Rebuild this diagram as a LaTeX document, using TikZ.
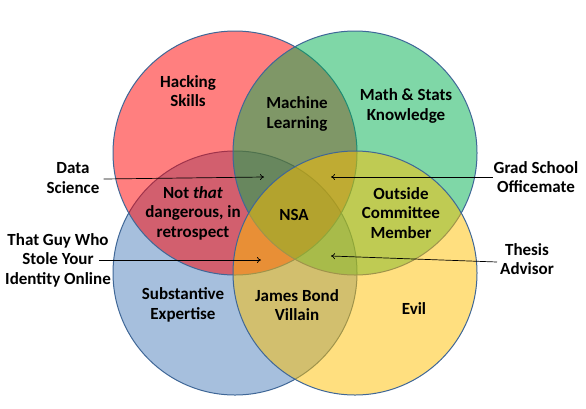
\documentclass[tikz,border=0pt]{standalone}
\usepackage{fontspec}
\setmainfont{Carlito}
\usetikzlibrary{arrows.meta}
\definecolor{cRed}{HTML}{FF0000}
\definecolor{cGreen}{HTML}{00B050}
\definecolor{cBlue}{HTML}{4F81BD}
\definecolor{cYellow}{HTML}{FFC000}
\definecolor{cEdge}{HTML}{3F6797}
\tikzset{
  venn/.style={draw=cEdge, line width=1pt, fill opacity=0.5},
  lbl/.style={align=center, inner sep=3pt, text=black,
    font=\fontsize{17}{19.5}\selectfont\bfseries},
  ptr/.style={draw=black, line width=0.7pt, -{To[length=4pt,width=6pt]}}
}
\begin{document}
\begin{tikzpicture}[x=1pt,y=-1pt]
\useasboundingbox (0,0) rectangle (586,408);
\fill[white] (0,0) rectangle (586,408);
% circles (order: blue, red, green, yellow)
\path[venn, fill=cBlue]   (235,273) circle[radius=122];
\path[venn, fill=cRed]    (235,153) circle[radius=122];
\path[venn, fill=cGreen]  (355,153) circle[radius=122];
\path[venn, fill=cYellow] (355,273) circle[radius=122];
% region labels
\node[lbl] (hack) at (188,91) {Hacking\\Skills};
\node[lbl] (ml)   at (297,114) {Machine\\Learning};
\node[lbl] (math) at (406,106) {Math \& Stats\\Knowledge};
\node[lbl] (ntd)  at (193,213) {Not \textit{that}\\dangerous, in\\retrospect};
\node[lbl] (nsa)  at (294,215) {NSA};
\node[lbl] (ocm)  at (401,213) {Outside\\Committee\\Member};
\node[lbl] (sub)  at (183,305) {Substantive\\Expertise};
\node[lbl] (jbv)  at (297,305) {James Bond\\Villain};
\node[lbl] (evil) at (414,309) {Evil};
% outside labels
\node[lbl] (ds) at (73,178) {Data\\Science};
\node[lbl] (tg) at (58,260) {That Guy Who\\Stole Your\\Identity Online};
\node[lbl] (gs) at (536,177) {Grad School\\Officemate};
\node[lbl] (ta) at (527,259) {Thesis\\Advisor};
% arrow tips
\coordinate (dsT) at (264,177);
\coordinate (tgT) at (261,260);
\coordinate (gsT) at (331,177);
\coordinate (taT) at (331,256);
\draw[ptr] ([yshift=-1pt,xshift=1pt]ds.east) -- (dsT);
\draw[ptr] ([xshift=-15pt]tg.east) -- (tgT);
\draw[ptr] ([xshift=2pt]gs.west) -- (gsT);
\draw[ptr] ([yshift=-3pt]ta.west) -- (taT);
\end{tikzpicture}
\end{document}
